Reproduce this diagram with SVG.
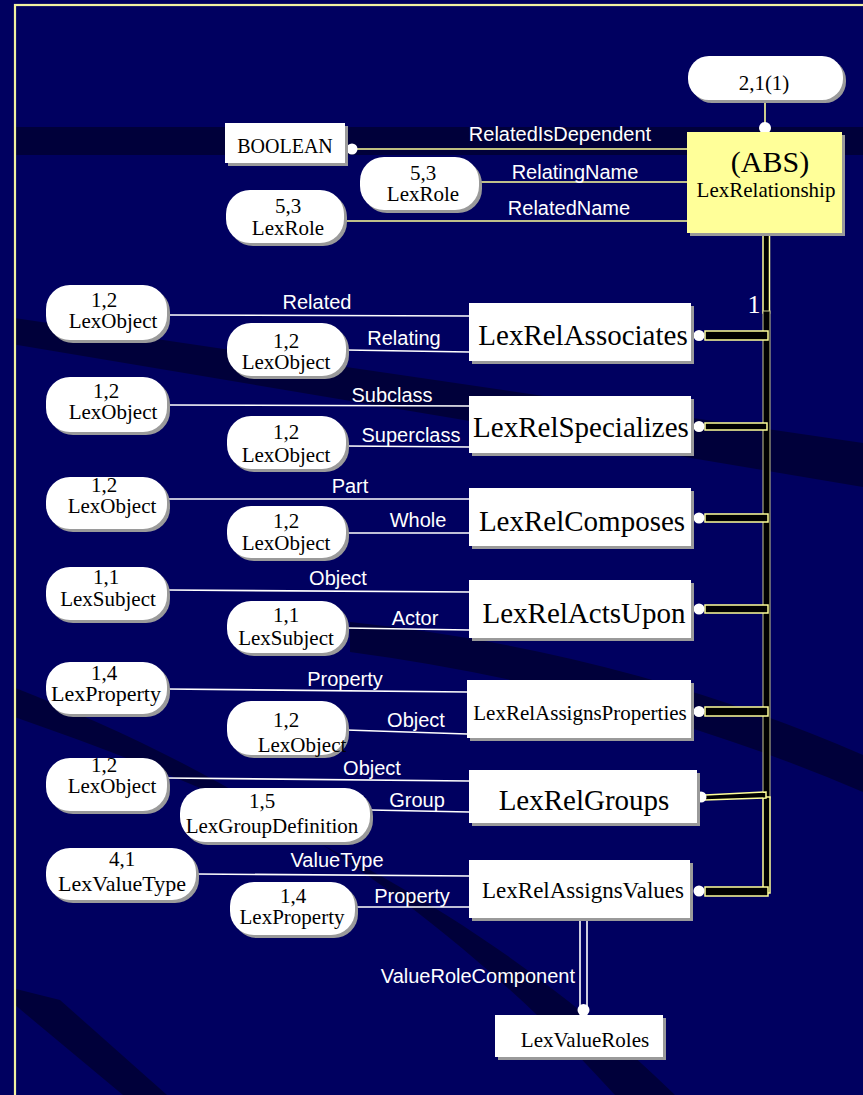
<svg xmlns="http://www.w3.org/2000/svg" width="863" height="1095" viewBox="0 0 863 1095">
<style>
.bg{fill:#000060}
.band{fill:#00003a}
.shadow{fill:#9a9a9a}
.box{fill:#ffffff}
.abs{fill:#ffff99}
.serif{font-family:"Liberation Serif","Times New Roman",serif;fill:#000;text-anchor:middle}
.lbl{font-family:"Liberation Sans",Arial,sans-serif;fill:#fff;font-size:20px;text-anchor:middle}
.wl{stroke:#fff;stroke-width:1.6;fill:none}
.yl{stroke:#ffff99;stroke-width:1.6;fill:none}
.dot{fill:#fff}
.bar{fill:#000;stroke:#ffff99;stroke-width:1.5}
.bus{fill:#000;stroke:#c8c890;stroke-width:1}
</style>
<defs>
<clipPath id="frame"><rect x="16" y="6" width="850" height="1092"/></clipPath>
</defs>
<rect class="bg" x="0" y="0" width="863" height="1095"/>
<g clip-path="url(#frame)">
<rect class="band" x="0" y="127" width="863" height="28"/>
<path class="band" d="M0 316 L863 443 L863 487 L0 342 Z"/>
<path class="band" d="M350 622 Q620 650 863 755 L863 792 Q620 688 350 652 Z"/>
<path class="band" d="M0 682 C200 758 420 880 615 1095 L675 1095 C470 895 240 795 0 712 Z"/>
<path class="band" d="M0 985 L60 1000 L167 1095 L123 1095 L15 1005 Z"/>
</g>
<rect x="15" y="5" width="900" height="1100" fill="none" stroke="#f2f2a0" stroke-width="2.2"/>

<g id="connectors">
<line class="yl" x1="765" y1="98" x2="765" y2="128" stroke-width="3.5"/>
<circle class="dot" cx="765" cy="128" r="6"/>
<line class="yl" x1="352" y1="149" x2="687" y2="149"/>
<circle class="dot" cx="352" cy="149" r="5.5"/>
<text class="lbl" x="560" y="141">RelatedIsDependent</text>
<line class="yl" x1="479" y1="182" x2="687" y2="182"/>
<text class="lbl" x="575" y="179">RelatingName</text>
<line class="yl" x1="344" y1="221" x2="687" y2="221"/>
<text class="lbl" x="569" y="215">RelatedName</text>

<rect class="bar" x="763" y="233" width="6.5" height="80"/>
<rect class="bus" x="763" y="311" width="7" height="487"/>
<rect class="bar" x="763" y="797" width="7" height="96"/>
<text x="754" y="313" font-family="Liberation Serif,serif" font-size="26" fill="#fff" text-anchor="middle">1</text>
<rect class="bar" x="705" y="331" width="63" height="9"/>
<circle class="dot" cx="699" cy="335.5" r="5.5"/>
<rect class="bar" x="705" y="423" width="62" height="7"/>
<circle class="dot" cx="699" cy="426.5" r="5.5"/>
<rect class="bar" x="705" y="514" width="63" height="8"/>
<circle class="dot" cx="699" cy="518" r="5.5"/>
<rect class="bar" x="705" y="605" width="63" height="8"/>
<circle class="dot" cx="699" cy="609" r="5.5"/>
<rect class="bar" x="705" y="707" width="63" height="9"/>
<circle class="dot" cx="699" cy="711.5" r="5.5"/>
<path class="bar" d="M705 795 L766 792 L766 798 L705 800 Z"/>
<circle class="dot" cx="701" cy="797" r="5.5"/>
<rect class="bar" x="705" y="887" width="63" height="9"/>
<circle class="dot" cx="699" cy="891" r="5.5"/>

<line class="wl" x1="167" y1="315" x2="469" y2="316"/>
<text class="lbl" x="317" y="309">Related</text>
<line class="wl" x1="346" y1="350" x2="469" y2="352"/>
<text class="lbl" x="404" y="345">Relating</text>
<line class="wl" x1="167" y1="405" x2="469" y2="406"/>
<text class="lbl" x="392" y="402">Subclass</text>
<line class="wl" x1="346" y1="446" x2="469" y2="447"/>
<text class="lbl" x="411" y="442">Superclass</text>
<line class="wl" x1="167" y1="499" x2="469" y2="499"/>
<text class="lbl" x="350" y="493">Part</text>
<line class="wl" x1="346" y1="533" x2="469" y2="533"/>
<text class="lbl" x="418" y="527">Whole</text>
<line class="wl" x1="167" y1="590" x2="469" y2="592"/>
<text class="lbl" x="338" y="585">Object</text>
<line class="wl" x1="346" y1="628" x2="469" y2="630"/>
<text class="lbl" x="415" y="625">Actor</text>
<line class="wl" x1="167" y1="689" x2="467" y2="692"/>
<text class="lbl" x="345" y="686">Property</text>
<line class="wl" x1="346" y1="730" x2="467" y2="734"/>
<text class="lbl" x="416" y="727">Object</text>
<line class="wl" x1="167" y1="778" x2="469" y2="781"/>
<text class="lbl" x="372" y="775">Object</text>
<line class="wl" x1="370" y1="810" x2="469" y2="812"/>
<text class="lbl" x="417" y="807">Group</text>
<line class="wl" x1="196" y1="874" x2="469" y2="876"/>
<text class="lbl" x="337" y="867">ValueType</text>
<line class="wl" x1="355" y1="907" x2="469" y2="907"/>
<text class="lbl" x="412" y="903">Property</text>
<line class="wl" x1="580" y1="918" x2="580" y2="1008"/>
<line class="wl" x1="587" y1="918" x2="587" y2="1008"/>
<circle class="dot" cx="583.5" cy="1010" r="6"/>
<text class="lbl" x="575" y="983" style="text-anchor:end">ValueRoleComponent</text>
</g>

<g id="n-card">
<rect class="shadow" x="691" y="59" width="155" height="44" rx="21"/>
<rect class="box" x="688" y="56" width="155" height="44" rx="21"/>
<text class="serif" x="764" y="90" font-size="21">2,1(1)</text>
</g>
<g id="n-LexRelationship">
<rect class="shadow" x="690" y="135" width="155" height="101"/>
<rect class="abs" x="687" y="132" width="155" height="101"/>
<text class="serif" x="770" y="172" font-size="30">(ABS)</text>
<text class="serif" x="766" y="197" font-size="21">LexRelationship</text>
</g>
<g id="n-BOOLEAN">
<rect class="shadow" x="228" y="126" width="120" height="40"/>
<rect class="box" x="225" y="123" width="120" height="40"/>
<text class="serif" x="285" y="153" font-size="20">BOOLEAN</text>
</g>
<g id="n-LexRole1">
<rect class="shadow" x="363" y="160" width="119" height="53" rx="24"/>
<rect class="box" x="360" y="157" width="119" height="53" rx="24"/>
<text class="serif" x="423" y="180" font-size="21">5,3</text>
<text class="serif" x="423" y="201" font-size="21">LexRole</text>
</g>
<g id="n-LexRole2">
<rect class="shadow" x="229" y="193" width="118" height="53" rx="24"/>
<rect class="box" x="226" y="190" width="118" height="53" rx="24"/>
<text class="serif" x="288" y="213" font-size="21">5,3</text>
<text class="serif" x="288" y="235" font-size="21">LexRole</text>
</g>

<g id="n-r1a">
<rect class="shadow" x="49" y="288" width="121" height="55" rx="24"/>
<rect class="box" x="46" y="285" width="121" height="55" rx="24"/>
<text class="serif" x="104" y="307" font-size="21">1,2</text>
<text class="serif" x="113" y="328" font-size="21">LexObject</text>
</g>
<g id="n-r1b">
<rect class="shadow" x="230" y="326" width="119" height="53" rx="24"/>
<rect class="box" x="227" y="323" width="119" height="53" rx="24"/>
<text class="serif" x="286" y="348" font-size="21">1,2</text>
<text class="serif" x="286" y="369" font-size="21">LexObject</text>
</g>
<g id="n-r2a">
<rect class="shadow" x="49" y="380" width="121" height="55" rx="24"/>
<rect class="box" x="46" y="377" width="121" height="55" rx="24"/>
<text class="serif" x="106" y="398" font-size="21">1,2</text>
<text class="serif" x="113" y="419" font-size="21">LexObject</text>
</g>
<g id="n-r2b">
<rect class="shadow" x="230" y="419" width="119" height="53" rx="24"/>
<rect class="box" x="227" y="416" width="119" height="53" rx="24"/>
<text class="serif" x="286" y="439" font-size="21">1,2</text>
<text class="serif" x="286" y="462" font-size="21">LexObject</text>
</g>
<g id="n-r3a">
<rect class="shadow" x="49" y="480" width="121" height="52" rx="24"/>
<rect class="box" x="46" y="477" width="121" height="52" rx="24"/>
<text class="serif" x="104" y="492" font-size="21">1,2</text>
<text class="serif" x="112" y="513" font-size="21">LexObject</text>
</g>
<g id="n-r3b">
<rect class="shadow" x="230" y="509" width="119" height="52" rx="24"/>
<rect class="box" x="227" y="506" width="119" height="52" rx="24"/>
<text class="serif" x="286" y="528" font-size="21">1,2</text>
<text class="serif" x="286" y="550" font-size="21">LexObject</text>
</g>
<g id="n-r4a">
<rect class="shadow" x="49" y="570" width="121" height="53" rx="24"/>
<rect class="box" x="46" y="567" width="121" height="53" rx="24"/>
<text class="serif" x="106" y="584" font-size="21">1,1</text>
<text class="serif" x="108" y="606" font-size="21">LexSubject</text>
</g>
<g id="n-r4b">
<rect class="shadow" x="230" y="604" width="119" height="52" rx="24"/>
<rect class="box" x="227" y="601" width="119" height="52" rx="24"/>
<text class="serif" x="286" y="622" font-size="21">1,1</text>
<text class="serif" x="286" y="645" font-size="21">LexSubject</text>
</g>
<g id="n-r5a">
<rect class="shadow" x="49" y="665" width="121" height="52" rx="24"/>
<rect class="box" x="46" y="662" width="121" height="52" rx="24"/>
<text class="serif" x="104" y="680" font-size="21">1,4</text>
<text class="serif" x="106" y="701" font-size="22">LexProperty</text>
</g>
<g id="n-r5b">
<rect class="shadow" x="230" y="704" width="119" height="54" rx="24"/>
<rect class="box" x="227" y="701" width="119" height="54" rx="24"/>
<text class="serif" x="286" y="727" font-size="21">1,2</text>
<text class="serif" x="302" y="752" font-size="21">LexObject</text>
</g>
<g id="n-r6a">
<rect class="shadow" x="49" y="761" width="121" height="53" rx="24"/>
<rect class="box" x="46" y="758" width="121" height="53" rx="24"/>
<text class="serif" x="104" y="772" font-size="21">1,2</text>
<text class="serif" x="112" y="793" font-size="21">LexObject</text>
</g>
<g id="n-r6b">
<rect class="shadow" x="183" y="791" width="190" height="54" rx="25"/>
<rect class="box" x="180" y="788" width="190" height="54" rx="25"/>
<text class="serif" x="262" y="808" font-size="21">1,5</text>
<text class="serif" x="272" y="833" font-size="21">LexGroupDefinition</text>
</g>
<g id="n-r7a">
<rect class="shadow" x="49" y="851" width="150" height="52" rx="24"/>
<rect class="box" x="46" y="848" width="150" height="52" rx="24"/>
<text class="serif" x="122" y="866" font-size="21">4,1</text>
<text class="serif" x="122" y="891" font-size="22">LexValueType</text>
</g>
<g id="n-r7b">
<rect class="shadow" x="233" y="885" width="125" height="53" rx="24"/>
<rect class="box" x="230" y="882" width="125" height="53" rx="24"/>
<text class="serif" x="293" y="903" font-size="21">1,4</text>
<text class="serif" x="292" y="924" font-size="21">LexProperty</text>
</g>

<g id="n-LexRelAssociates">
<rect class="shadow" x="472" y="306" width="222" height="58"/>
<rect class="box" x="469" y="303" width="222" height="58"/>
<text class="serif" x="583" y="345" font-size="29">LexRelAssociates</text>
</g>
<g id="n-LexRelSpecializes">
<rect class="shadow" x="472" y="399" width="222" height="57"/>
<rect class="box" x="469" y="396" width="222" height="57"/>
<text class="serif" x="581" y="437" font-size="29">LexRelSpecializes</text>
</g>
<g id="n-LexRelComposes">
<rect class="shadow" x="472" y="491" width="222" height="58"/>
<rect class="box" x="469" y="488" width="222" height="58"/>
<text class="serif" x="582" y="531" font-size="29">LexRelComposes</text>
</g>
<g id="n-LexRelActsUpon">
<rect class="shadow" x="472" y="583" width="222" height="58"/>
<rect class="box" x="469" y="580" width="222" height="58"/>
<text class="serif" x="584" y="623" font-size="29">LexRelActsUpon</text>
</g>
<g id="n-LexRelAssignsProperties">
<rect class="shadow" x="470" y="683" width="224" height="58"/>
<rect class="box" x="467" y="680" width="224" height="58"/>
<text class="serif" x="580" y="720" font-size="21">LexRelAssignsProperties</text>
</g>
<g id="n-LexRelGroups">
<rect class="shadow" x="472" y="773" width="228" height="53"/>
<rect class="box" x="469" y="770" width="228" height="53"/>
<text class="serif" x="584" y="810" font-size="29">LexRelGroups</text>
</g>
<g id="n-LexRelAssignsValues">
<rect class="shadow" x="472" y="863" width="221" height="58"/>
<rect class="box" x="469" y="860" width="221" height="58"/>
<text class="serif" x="583" y="898" font-size="23">LexRelAssignsValues</text>
</g>
<g id="n-LexValueRoles">
<rect class="shadow" x="498" y="1018" width="168" height="42"/>
<rect class="box" x="495" y="1015" width="168" height="42"/>
<text class="serif" x="585" y="1047" font-size="21">LexValueRoles</text>
</g>
</svg>
